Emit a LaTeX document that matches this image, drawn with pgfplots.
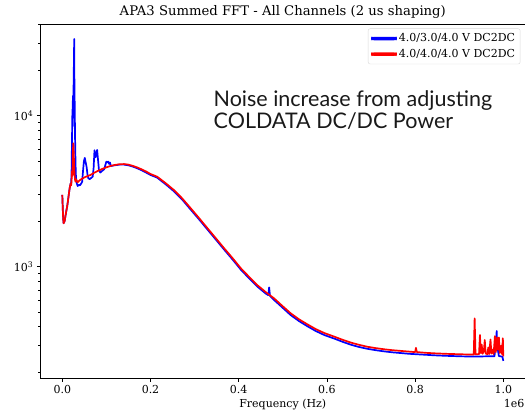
\documentclass[border=0pt]{standalone}
\usepackage{fontspec}
\setmainfont{DejaVu Serif}
\newfontfamily\lato{Lato}
\usepackage{pgfplots}
\pgfplotsset{compat=1.18}
\usepackage{pgfplotstable}

\pgfplotstableread{
x y
0.000 2990
0.001 2450
0.002 2080
0.003 1940
0.005 1990
0.007 2150
0.009 2330
0.011 2500
0.013 2750
0.015 3050
0.017 3350
0.019 3560
0.020 3500
0.021 4200
0.022 7000
0.023 11000
0.0235 8500
0.024 13500
0.025 12000
0.026 19000
0.027 32200
0.0275 16000
0.028 12500
0.029 7000
0.030 4800
0.031 3900
0.033 3550
0.035 3420
0.037 3480
0.040 3460
0.043 3560
0.045 3650
0.047 4300
0.049 5000
0.051 5250
0.053 4900
0.055 4600
0.057 4100
0.059 3850
0.062 3800
0.066 3880
0.069 3950
0.071 4500
0.073 5900
0.075 5300
0.077 5500
0.079 5930
0.081 5100
0.083 4400
0.086 4200
0.090 4300
0.095 4420
0.098 4750
0.100 4960
0.102 4900
0.104 4960
0.106 4800
0.108 4900
0.110 4640
0.120 4700
0.130 4740
0.140 4740
0.150 4690
0.160 4600
0.170 4480
0.180 4350
0.190 4200
0.200 4050
0.215 3890
0.234 3520
0.253 3160
0.272 2780
0.291 2390
0.310 2060
0.329 1765
0.348 1515
0.367 1298
0.386 1117
0.405 955
0.423 841
0.442 740
0.461 665
0.467 648
0.469 730
0.471 640
0.480 603
0.499 537
0.518 478
0.537 436
0.556 403
0.575 375
0.594 353
0.617 334
0.636 318
0.655 304
0.673 294
0.692 286
0.711 280
0.730 275
0.749 271
0.768 268
0.787 265
0.806 263
0.825 261
0.844 259
0.870 257
0.905 255
0.935 254
0.960 255
0.980 255
0.984 340
0.985 375
0.986 300
0.990 256
0.998 254
1.000 238
}\bluedata

\pgfplotstableread{
x y
0.000 2990
0.001 2450
0.002 2080
0.003 1940
0.005 1990
0.007 2150
0.009 2330
0.011 2500
0.013 2750
0.015 3050
0.017 3350
0.019 3560
0.020 3450
0.021 3700
0.022 4300
0.023 4000
0.024 5800
0.025 6560
0.026 5600
0.027 4500
0.028 4000
0.029 3750
0.030 3650
0.031 3800
0.033 3700
0.035 3620
0.038 3700
0.042 3780
0.046 3840
0.050 3900
0.056 3970
0.064 4050
0.072 4180
0.080 4300
0.090 4430
0.100 4550
0.110 4650
0.120 4720
0.130 4770
0.140 4780
0.150 4740
0.160 4650
0.170 4540
0.180 4410
0.190 4270
0.200 4110
0.215 3945
0.234 3580
0.253 3220
0.272 2830
0.291 2440
0.310 2100
0.329 1800
0.348 1545
0.367 1324
0.386 1140
0.405 975
0.423 860
0.442 756
0.461 680
0.480 618
0.499 550
0.518 491
0.537 448
0.556 415
0.575 386
0.594 364
0.617 344
0.636 328
0.655 314
0.673 304
0.692 295
0.711 289
0.730 284
0.749 280
0.768 277
0.787 274
0.800 272
0.802 290
0.804 272
0.825 269
0.844 267
0.870 265
0.905 263
0.933 262
0.935 455
0.937 263
0.945 264
0.947 353
0.949 268
0.951 305
0.953 265
0.956 278
0.958 327
0.960 266
0.964 264
0.966 292
0.968 264
0.971 330
0.973 266
0.976 283
0.978 264
0.981 347
0.983 272
0.986 340
0.988 282
0.990 340
0.992 268
0.995 300
0.997 264
0.999 336
1.000 255
}\reddata

\begin{document}
\begin{tikzpicture}
\useasboundingbox (0pt,0pt) rectangle (525pt,412pt);
\begin{axis}[
  at={(40.25pt,33.7pt)}, anchor=south west,
  width=485.1pt, height=354.3pt, scale only axis,
  ymode=log,
  xmin=-0.05, xmax=1.05, ymin=182.5, ymax=40450,
  xtick={0,0.2,0.4,0.6,0.8,1.0},
  xticklabels={0.0,0.2,0.4,0.6,0.8,1.0},
  ytick={1000,10000},
  yticklabels={10\textsuperscript{3},10\textsuperscript{4}},
  minor ytick={200,300,400,500,600,700,800,900,2000,3000,4000,5000,6000,7000,8000,9000,20000,30000,40000},
  tick align=outside, xtick pos=bottom, ytick pos=left,
  major tick length=3.5pt, minor tick length=2pt,
  every tick/.style={black, line width=0.8pt},
  axis line style={line width=0.8pt},
  ticklabel style={font=\fontsize{11}{13}\selectfont},
  xticklabel style={yshift=-0.5pt},
  legend cell align=left,
  legend style={at={(rel axis cs:1,1)}, anchor=north east, xshift=-5pt, yshift=-4.5pt,
    draw=black!15, rounded corners=2pt, font=\fontsize{11}{13}\selectfont,
    inner xsep=3pt, inner ysep=3pt, row sep=2pt},
  legend image code/.code={\fill[#1] (0pt,-0.9pt) rectangle (24pt,0.9pt);},
]
\addplot[color=blue, line width=1.7pt, line join=round] table[x=x,y=y] {\bluedata};
\addlegendentry{4.0/3.0/4.0 V DC2DC}
\addplot[color=red, line width=1.7pt, line join=round] table[x=x,y=y] {\reddata};
\addlegendentry{4.0/4.0/4.0 V DC2DC}
\end{axis}
\node[anchor=base] at (282.8pt,396pt) {\fontsize{13.2}{15}\selectfont APA3 Summed FFT - All Channels (2 us shaping)};
\node[anchor=base] at (282.8pt,4pt) {\fontsize{11}{13}\selectfont Frequency (Hz)};
\node[anchor=base east, inner sep=0pt] at (524.5pt,4pt) {\fontsize{11}{13}\selectfont 1e6};
\node[anchor=base west, inner sep=0pt, text=black!90] at (213.5pt,305.3pt) {\lato\fontsize{21.5}{24}\selectfont Noise increase from adjusting};
\node[anchor=base west, inner sep=0pt, text=black!90] at (213.5pt,283.7pt) {\lato\fontsize{21.5}{24}\selectfont COLDATA DC/DC Power};
\end{tikzpicture}
\end{document}
